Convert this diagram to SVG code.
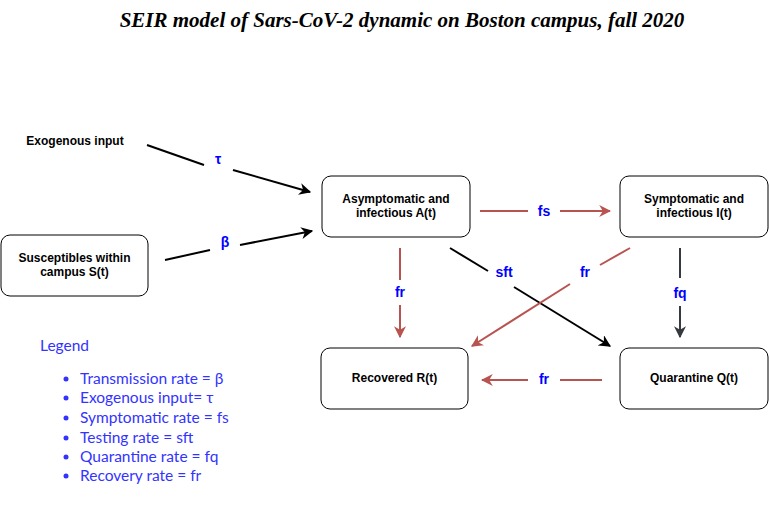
<svg xmlns="http://www.w3.org/2000/svg" width="769" height="506" viewBox="0 0 769 506">
<defs>
<style>
.node rect{fill:#ffffff;stroke:#000000;stroke-width:1}
.node text{font-family:"Liberation Sans",Arial,sans-serif;font-size:12px;font-weight:bold;fill:#000000;text-anchor:middle}
.lbl{font-family:"Liberation Sans",Arial,sans-serif;font-size:14px;font-weight:bold;fill:#0000ff;text-anchor:middle}
.blk{stroke:#000000;stroke-width:2;fill:none}
.red{stroke:#b85450;stroke-width:2;fill:none}
.gry{stroke:#36393d;stroke-width:2;fill:none}
.leg{font-family:Lato,"Liberation Sans",sans-serif;font-size:15.5px;fill:#3333ff}
</style>
<marker id="ar" viewBox="0 0 10 10" refX="9" refY="5" markerWidth="12" markerHeight="12" orient="auto" markerUnits="userSpaceOnUse"><path d="M0,0 L10,5 L0,10 L3,5 Z" fill="#b85450"/></marker>
<marker id="ag" viewBox="0 0 10 10" refX="9" refY="5" markerWidth="12" markerHeight="12" orient="auto" markerUnits="userSpaceOnUse"><path d="M0,0 L10,5 L0,10 L3,5 Z" fill="#36393d"/></marker>
<marker id="ak" viewBox="0 0 10 10" refX="9" refY="5" markerWidth="12" markerHeight="12" orient="auto" markerUnits="userSpaceOnUse"><path d="M0,0 L10,5 L0,10 L3,5 Z" fill="#000000"/></marker>
</defs>
<rect width="769" height="506" fill="#ffffff"/>
<text x="402" y="27" text-anchor="middle" font-family="'Liberation Serif','Times New Roman',serif" font-size="21" font-weight="bold" font-style="italic">SEIR model of Sars-CoV-2 dynamic on Boston campus, fall 2020</text>

<g id="connectors">
<path class="blk" d="M147,145 L204,165"/>
<path class="blk" d="M233,170 L310,192" marker-end="url(#ak)"/>
<path class="blk" d="M165,260 L210,250"/>
<path class="blk" d="M240,245 L312,231" marker-end="url(#ak)"/>
<path class="red" d="M480,211 L528,211"/>
<path class="red" d="M560,211 L610,211" marker-end="url(#ar)"/>
<path class="red" d="M400,248 L400,280"/>
<path class="red" d="M400,305 L400,337" marker-end="url(#ar)"/>
<path class="blk" d="M450,248 L488,271"/>
<path class="blk" d="M514,287 L610,346" marker-end="url(#ak)"/>
<path class="red" d="M630,248 L600,265"/>
<path class="red" d="M570,284 L472,346" marker-end="url(#ar)"/>
<path class="gry" d="M680,248 L680,278"/>
<path class="gry" d="M680,306 L680,337" marker-end="url(#ag)"/>
<path class="red" d="M602,380 L560,380"/>
<path class="red" d="M528,380 L482,380" marker-end="url(#ar)"/>
<text class="lbl" x="218" y="164">τ</text>
<text class="lbl" x="225" y="247">β</text>
<text class="lbl" x="544" y="216">fs</text>
<text class="lbl" x="400" y="297">fr</text>
<text class="lbl" x="504" y="277">sft</text>
<text class="lbl" x="585" y="277">fr</text>
<text class="lbl" x="680" y="298">fq</text>
<text class="lbl" x="544" y="384">fr</text>
</g>

<g id="exogenous">
<text x="75" y="145" font-family="'Liberation Sans',Arial,sans-serif" font-size="12" font-weight="bold" text-anchor="middle">Exogenous input</text>
</g>
<g id="S" class="node">
<rect x="1" y="235" width="147" height="61" rx="9"/>
<text x="74.5" y="262">Susceptibles within</text>
<text x="74.5" y="276">campus S(t)</text>
</g>
<g id="A" class="node">
<rect x="322" y="176" width="148" height="61" rx="9"/>
<text x="396" y="203">Asymptomatic and</text>
<text x="396" y="217">infectious A(t)</text>
</g>
<g id="I" class="node">
<rect x="620" y="176" width="148" height="61" rx="9"/>
<text x="694" y="203">Symptomatic and</text>
<text x="694" y="217">infectious I(t)</text>
</g>
<g id="R" class="node">
<rect x="321" y="348" width="147" height="61" rx="9"/>
<text x="394.5" y="382">Recovered R(t)</text>
</g>
<g id="Q" class="node">
<rect x="620" y="348" width="148" height="61" rx="9"/>
<text x="694" y="382">Quarantine Q(t)</text>
</g>

<g id="legend" class="leg">
<text x="40" y="351">Legend</text>
<g fill="#3333ff">
<circle cx="66" cy="379" r="2.5"/>
<circle cx="66" cy="398" r="2.5"/>
<circle cx="66" cy="418" r="2.5"/>
<circle cx="66" cy="438" r="2.5"/>
<circle cx="66" cy="457" r="2.5"/>
<circle cx="66" cy="476" r="2.5"/>
</g>
<text x="80" y="384">Transmission rate = β</text>
<text x="80" y="403">Exogenous input= τ</text>
<text x="80" y="423">Symptomatic rate = fs</text>
<text x="80" y="443">Testing rate = sft</text>
<text x="80" y="462">Quarantine rate = fq</text>
<text x="80" y="481">Recovery rate = fr</text>
</g>
</svg>
